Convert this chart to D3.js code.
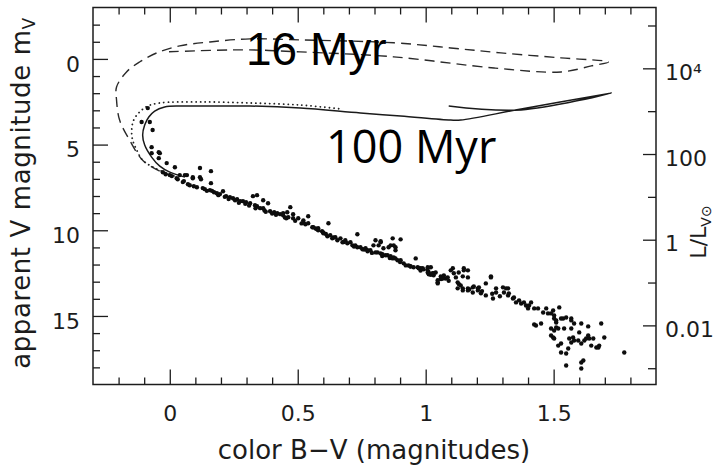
<!DOCTYPE html>
<html>
<head>
<meta charset="utf-8">
<script src="https://cdn.jsdelivr.net/npm/d3@7"></script>
<style>
  body { margin: 0; background: #fff; }
  svg { display: block; }
</style>
</head>
<body>
<div id="chart"></div>
<script>
/* global d3 */

// axis ticks
var xMajor = [0, 0.5, 1, 1.5];
var xMinor = [-0.2, -0.1, 0.1, 0.2, 0.3, 0.4, 0.6, 0.7, 0.8, 0.9, 1.1, 1.2, 1.3, 1.4, 1.6, 1.7, 1.8];
var yMajor = [0, 5, 10, 15];
var yMinor = [-2, -1, 1, 2, 3, 4, 6, 7, 8, 9, 11, 12, 13, 14, 16, 17, 18];
var lumMajor = [1e4, 100, 1, 0.01];
var lumLabels = ["10\u2074", "100", "1", "0.01"];
var lumMinor = [1e5, 1e3, 10, 0.1, 1e-3];
var lumZeroMag = 10.55; // m_V where L = L_V(sun)

// isochrones [B-V, m_V]
var iso16 = [[0.02,6.84],[-0.039,6.55],[-0.106,5.91],[-0.157,4.74],[-0.196,3.57],[-0.208,2.40],[-0.208,1.64],
  [-0.169,0.76],[-0.118,0.18],[-0.051,-0.35],[0.039,-0.76],[0.157,-0.99],[0.314,-1.17],[0.51,-1.11],[0.875,-0.94],
  [1.098,-0.64],[1.294,-0.35],[1.529,-0.06],[1.714,0.18],[1.647,0.41],[1.529,0.76],[1.267,0.53],[0.875,-0.12],
  [0.51,-0.41],[0.286,-0.53],[-0.012,-0.41]];
var iso100 = [[0.059,6.90],[0,6.61],[-0.039,6.26],[-0.071,5.73],[-0.098,5.03],[-0.106,4.44],[-0.098,3.86],
  [-0.082,3.39],[-0.059,3.04],[-0.02,2.81],[0.039,2.75],[0.118,2.75],[0.314,2.75],[0.51,2.87],[0.745,3.16],
  [0.902,3.33],[1.098,3.57],[1.137,3.57],[1.373,2.92],[1.725,1.99],[1.373,2.98],[1.09,2.75]];
var iso100b = [[0,6.73],[-0.059,6.37],[-0.106,5.91],[-0.129,5.32],[-0.145,4.74],[-0.149,4.15],[-0.141,3.57],
  [-0.118,3.10],[-0.086,2.75],[-0.039,2.57],[0.118,2.51],[0.314,2.57],[0.51,2.69],[0.667,2.92]];

// cluster stars [B-V, m_V]
var stars = [
  [-0.086,2.87],[-0.110,3.68],[-0.078,3.68],[-0.067,4.15],[-0.071,5.15],[-0.071,5.50],[-0.043,5.44],[-0.039,5.50],
  [-0.043,5.79],[-0.012,6.08],[0.020,6.32],[0.118,6.37],[0.161,6.55],[-0.027,6.61],[0.000,6.78],[0.039,6.78],
  [0.067,6.78],[0.090,6.90],[0.118,6.90],[0.059,6.78],[0.090,6.96],[0.122,7.02],[0.161,7.25],[0.027,6.96],
  [0.051,7.19],[0.078,7.37],[0.106,7.49],[0.129,7.54],[0.157,7.66],[0.184,7.84],[0.208,7.72],[0.235,8.07],
  [0.263,8.19],[0.286,8.30],[0.314,8.42],[0.325,8.01],[0.341,7.95],[0.365,8.25],[0.384,8.42],[0.341,8.60],
  [0.365,8.71],[0.392,8.89],[0.420,9.01],[0.443,9.12],[0.459,8.95],[0.471,8.65],[0.482,9.06],[0.502,9.30],
  [0.522,9.42],[0.541,9.18],[0.557,9.82],[0.576,9.94],[0.600,10.12],[0.620,9.59],
  [-0.016,6.73],[0.008,6.84],[0.031,7.02],[0.055,7.13],[0.071,7.31],[0.094,7.43],[0.137,7.60],[0.173,7.78],
  [0.196,7.89],[0.220,8.01],[0.247,8.13],[0.275,8.30],[0.298,8.36],[0.333,8.54],[0.353,8.71],[0.408,8.95],
  [0.431,9.06],[0.580,9.88],
  [0.145,7.70],[0.190,7.95],[0.230,8.18],[0.270,8.40],[0.310,8.55],[0.370,8.85],[0.400,9.02],[0.450,9.25],
  [0.490,9.45],[0.530,9.65],[0.570,9.90],[0.610,10.22],[0.640,10.42],[0.680,10.68],[0.720,10.95],[0.760,11.12],
  [0.790,11.32],[0.830,11.50],[0.860,11.62],[0.900,11.85],[0.940,12.10],[0.980,12.35],[1.020,12.60],[1.060,12.85],
  [1.090,12.95],[1.130,13.15],[1.170,13.45],[1.220,13.55],[1.260,13.70],[1.290,13.85],[0.165,7.70],[0.215,8.05],
  [0.255,8.25],[0.295,8.45],[0.335,8.72],[0.375,8.92],[0.415,9.10],[0.455,9.30],[0.515,9.60],[0.595,10.05],
  [0.600,10.18],[0.616,10.35],[0.635,10.47],[0.655,10.58],[0.675,10.70],[0.694,10.76],[0.714,10.88],[0.733,10.23],
  [0.733,10.99],[0.753,11.11],[0.773,11.23],[0.804,10.58],[0.824,10.64],[0.816,10.88],[0.812,11.29],[0.831,11.40],
  [0.851,11.46],[0.863,10.88],[0.882,10.99],[0.902,10.53],[0.871,11.64],[0.890,11.75],[0.914,11.93],[0.933,12.05],
  [0.961,11.64],[0.953,12.16],[0.980,12.22],[1.008,12.16],[1.012,12.46],[1.031,12.51],[1.047,13.04],[1.059,12.69],
  [1.078,12.81],[1.106,12.22],[1.098,12.34],[1.118,12.75],[1.149,12.22],[1.165,12.34],[1.145,12.69],[1.165,12.75],
  [1.137,13.22],[1.184,13.33],[1.204,13.39],[1.235,13.10],[1.255,12.69],[1.275,13.39],[1.302,13.33],[1.322,13.39],
  [0.443,9.01],[0.463,9.24],[0.482,9.30],[0.522,9.53],[0.541,9.59],[0.561,9.82],[0.580,10.00],[0.627,10.29],
  [0.647,10.41],[0.667,10.47],[0.686,10.58],[0.706,10.70],[0.725,10.88],[0.745,10.99],[0.765,11.05],[0.784,11.17],
  [0.804,11.29],[0.824,10.70],[0.824,11.35],[0.843,11.46],[0.863,11.52],[0.875,10.88],[0.882,11.17],[0.882,11.64],
  [0.902,11.75],[0.922,12.05],[0.941,12.11],[0.969,12.16],[0.988,12.22],[1.008,12.34],[1.012,12.57],[1.031,12.63],
  [1.039,12.46],[1.047,13.10],[1.059,12.81],[1.071,12.63],[1.125,13.39],[1.145,13.51],[1.165,13.39],[1.188,13.28],
  [1.208,13.33],
  [0.773,11.17],[0.796,10.88],[0.835,11.05],[0.855,10.99],[0.871,10.47],[0.875,11.58],[0.973,12.22],[0.992,12.28],
  [1.008,12.46],[1.020,12.16],[1.027,12.51],[1.047,12.92],[1.067,12.81],[1.086,12.75],[1.110,12.51],[1.125,13.04],
  [1.129,12.46],[1.149,12.34],[1.145,13.39],[1.165,13.51],[1.184,13.63],[1.204,13.51],[1.216,13.68],[1.235,13.80],
  [1.255,12.75],[1.263,13.98],[1.275,13.63],[1.306,13.63],[1.322,13.80],[1.341,13.98],[1.353,14.21],[1.373,14.27],
  [1.392,14.39],[1.400,14.56],[1.412,14.21],[1.424,14.56],[1.431,15.56],[1.451,15.44],[1.459,14.80],[1.478,14.85],
  [1.498,14.68],[1.502,15.15],[1.498,16.26],[1.518,15.73],[1.529,16.61],[1.541,15.73],[1.549,17.19],[1.557,16.90],
  [1.561,16.32],[1.569,15.15],[1.580,16.43],[1.600,15.96],[1.608,16.61],[1.608,15.44],[1.616,17.60],[1.620,16.43],
  [1.635,16.14],[1.647,16.73],[1.655,16.32],[1.667,16.84],[1.678,16.73],[1.686,15.44],[1.698,16.26],[1.776,17.13],
  [1.549,17.89],[1.608,18.07],[1.502,15.85],[1.537,15.15],[1.510,15.38],
  [1.314,13.39],[1.325,13.68],[1.345,13.92],[1.365,14.09],[1.384,14.21],[1.404,14.39],[1.439,14.56],[1.471,14.56],
  [1.490,14.85],[1.502,14.97],[1.522,14.50],[1.510,15.26],[1.529,15.15],[1.549,15.09],[1.569,15.26],[1.580,15.44],
  [1.424,15.50],[1.490,15.73],[1.510,15.67],[1.569,15.73],[1.635,15.61],[1.490,16.14],[1.502,16.32],[1.518,16.73],
  [1.529,17.13],[1.569,16.55],[1.576,16.26],[1.596,16.43],[1.627,16.32],[1.639,16.32],[1.675,16.84],[1.608,17.72]
];

// look
var width = 719, height = 468;
var plotL = 93, plotR = 656, plotT = 7.5, plotB = 384.5;
var ink = "#1c1c1c";
var tickFont = "DejaVu Sans, sans-serif";

var x = d3.scaleLinear().domain([-0.3, 1.9]).range([plotL, plotR]);
var y = d3.scaleLinear().domain([-3, 19]).range([plotT, plotB]);
var yL = d3.scaleLog()
    .domain([Math.pow(10, 0.4 * (lumZeroMag + 3)), Math.pow(10, 0.4 * (lumZeroMag - 19))])
    .range([plotT, plotB]);

var svg = d3.select("#chart").append("svg")
    .attr("width", width)
    .attr("height", height);

svg.append("rect").attr("width", width).attr("height", height).attr("fill", "#fff");

svg.append("clipPath").attr("id", "plot")
  .append("rect")
    .attr("x", plotL).attr("y", plotT)
    .attr("width", plotR - plotL).attr("height", plotB - plotT);

// draws an axis, drops its domain path and styles it
function addAxis(axis, tx, ty) {
  var g = svg.append("g")
      .attr("transform", "translate(" + tx + "," + ty + ")")
      .call(axis);
  g.select(".domain").remove();
  g.selectAll("line").attr("stroke", ink).attr("stroke-width", 1.3);
  g.selectAll("text")
      .attr("font-family", tickFont)
      .attr("font-size", 22)
      .attr("fill", ink);
  return g;
}

// bottom + top
addAxis(d3.axisBottom(x).tickValues(xMajor).tickSize(-15).tickPadding(21).tickFormat(d3.format("")), 0, plotB);
addAxis(d3.axisBottom(x).tickValues(xMinor).tickSize(-7).tickFormat(""), 0, plotB);
addAxis(d3.axisTop(x).tickValues(xMajor).tickSize(-15).tickFormat(""), 0, plotT);
addAxis(d3.axisTop(x).tickValues(xMinor).tickSize(-7).tickFormat(""), 0, plotT);

// left (magnitudes)
var gl = addAxis(d3.axisLeft(y).tickValues(yMajor).tickSize(-15).tickPadding(13).tickFormat(d3.format("")), plotL, 0);
gl.selectAll("text").attr("dy", "0.55em");
addAxis(d3.axisLeft(y).tickValues(yMinor).tickSize(-7).tickFormat(""), plotL, 0);

// right (luminosity)
var gr = addAxis(d3.axisRight(yL).tickValues(lumMajor).tickSize(-13).tickPadding(9)
    .tickFormat(function(d, i) { return lumLabels[i]; }), plotR, 0);
gr.selectAll("text").attr("dy", "0.5em");
addAxis(d3.axisRight(yL).tickValues(lumMinor).tickSize(-8).tickFormat(""), plotR, 0);

// frame
svg.append("rect")
    .attr("x", plotL).attr("y", plotT)
    .attr("width", plotR - plotL).attr("height", plotB - plotT)
    .attr("fill", "none")
    .attr("stroke", ink)
    .attr("stroke-width", 1.5);

var plot = svg.append("g").attr("clip-path", "url(#plot)");

var line = d3.line()
    .x(function(d) { return x(d[0]); })
    .y(function(d) { return y(d[1]); })
    .curve(d3.curveCatmullRom.alpha(0.5));

plot.append("path").datum(iso16)
    .attr("d", line)
    .attr("fill", "none")
    .attr("stroke", "#2a2a2a")
    .attr("stroke-width", 1.4)
    .attr("stroke-dasharray", "10,6");

plot.append("path").datum(iso100b)
    .attr("d", line)
    .attr("fill", "none")
    .attr("stroke", "#222")
    .attr("stroke-width", 1.8)
    .attr("stroke-linecap", "round")
    .attr("stroke-dasharray", "0.1,4.5");

plot.append("path").datum(iso100)
    .attr("d", line)
    .attr("fill", "none")
    .attr("stroke", "#1a1a1a")
    .attr("stroke-width", 1.5);

plot.append("g")
  .selectAll("circle")
  .data(stars)
  .join("circle")
    .attr("cx", function(d) { return x(d[0]); })
    .attr("cy", function(d) { return y(d[1]); })
    .attr("r", 2.2)
    .attr("fill", "#0d0d0d");

// age labels
svg.append("text")
    .attr("x", 246).attr("y", 65)
    .attr("font-family", "Liberation Sans, Arial, sans-serif")
    .attr("font-size", 46)
    .attr("fill", "#000")
    .text("16 Myr");

svg.append("text")
    .attr("x", 326).attr("y", 163)
    .attr("font-family", "Open Sans, sans-serif")
    .attr("font-size", 45)
    .attr("fill", "#000")
    .text("100 Myr");

// axis titles
var ylab = svg.append("text")
    .attr("transform", "translate(30,193) rotate(-90)")
    .attr("text-anchor", "middle")
    .attr("font-family", tickFont)
    .attr("font-size", 26)
    .attr("letter-spacing", 0.6)
    .attr("fill", ink);
ylab.append("tspan").text("apparent V magnitude m");
ylab.append("tspan").attr("font-size", 17).attr("dy", 5).text("V");

svg.append("text")
    .attr("x", 374).attr("y", 459)
    .attr("text-anchor", "middle")
    .attr("font-family", tickFont)
    .attr("font-size", 26)
    .attr("fill", ink)
    .text("color  B\u2212V  (magnitudes)");

var rlab = svg.append("text")
    .attr("transform", "translate(706,232) rotate(-90)")
    .attr("text-anchor", "middle")
    .attr("font-family", tickFont)
    .attr("font-size", 22)
    .attr("fill", ink);
rlab.append("tspan").text("L/L");
rlab.append("tspan").attr("font-size", 14).attr("dy", 5).text("V\u2299");
</script>
</body>
</html>
